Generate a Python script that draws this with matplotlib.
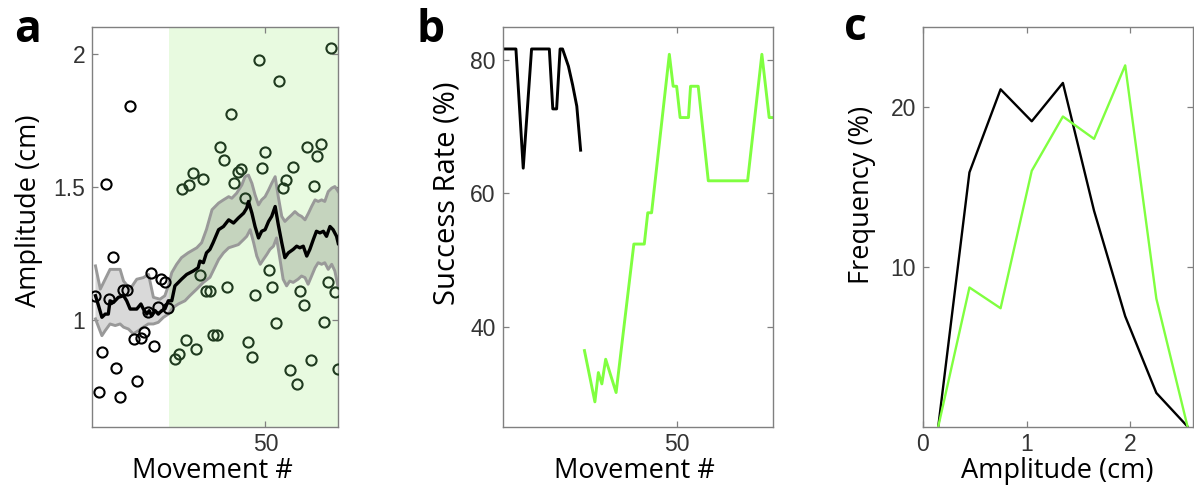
import numpy as np
import matplotlib
matplotlib.use("Agg")
import matplotlib.pyplot as plt

plt.rcParams['font.family'] = ['Liberation Sans', 'DejaVu Sans']

# panel a: amplitude of each movement (nan = hidden under the mean line)
move = np.arange(1, 72)
amp = [1.091, 0.728, 0.880, 1.510, 1.078, 1.237, 0.819, 0.709, 1.111, 1.111,
       1.802, 0.927, 0.772, 0.933, 0.955, 1.029, 1.178, 0.902, 1.047, 1.155,
       1.144, 1.045, np.nan, 0.855, 0.873, 1.491, 0.925, 1.507, 1.553, 0.892,
       1.169, 1.528, 1.107, 1.107, 0.944, 0.944, 1.650, 1.600, 1.124, 1.772,
       1.513, 1.556, 1.565, 1.457, 0.917, 0.861, 1.093, 1.975, 1.569, 1.631,
       1.187, 1.124, 0.988, 1.898, 1.495, 1.526, 0.814, 1.575, 0.761, 1.107,
       1.056, 1.650, 0.848, 1.503, 1.615, 1.660, 0.994, 1.143, 2.020, 1.106,
       0.817]
shade_start = 22.2

mean_x = [1, 1.9, 2.85, 3.8, 4.7, 5.2, 6.2, 7.6, 9.1, 10.0, 11.0, 12.9, 14.1, 14.8,
          15.8, 16.5, 17.2, 18.2, 19.1, 20.1, 21.0, 22.0, 23.0, 23.9, 24.9, 25.8,
          27.3, 29.2, 30.6, 31.1, 32.1, 33.0, 34.0, 34.9, 36.5, 37.9, 39.4, 40.8,
          42.2, 43.7, 44.6, 45.1, 46.1, 47.0, 48.0, 48.9, 49.9, 50.9, 51.8, 52.8,
          53.7, 54.7, 55.6, 56.6, 58.0, 59.0, 59.9, 60.9, 61.9, 62.8, 63.8, 64.7,
          65.7, 66.7, 67.6, 68.6, 69.5, 70.5, 71]
mean_y = [1.091, 1.053, 1.010, 1.022, 1.022, 1.072, 1.066, 1.085, 1.091, 1.072,
          1.041, 1.041, 1.060, 1.041, 1.022, 1.035, 1.016, 1.035, 1.022, 1.035,
          1.041, 1.072, 1.072, 1.128, 1.141, 1.153, 1.171, 1.184, 1.196, 1.221,
          1.215, 1.252, 1.265, 1.290, 1.339, 1.351, 1.376, 1.364, 1.383, 1.401,
          1.420, 1.445, 1.401, 1.351, 1.308, 1.333, 1.339, 1.370, 1.389, 1.426,
          1.358, 1.290, 1.234, 1.252, 1.265, 1.277, 1.271, 1.277, 1.240, 1.265,
          1.302, 1.333, 1.327, 1.333, 1.314, 1.351, 1.339, 1.314, 1.287]

upper_x = [1, 2.4, 5.2, 8.1, 9.1, 11.0, 12.9, 14.8, 16.3, 17.7, 19.6, 21.0, 22.0,
           23.0, 24.4, 25.8, 27.7, 30.2, 31.6, 33.0, 34.6, 36.5, 37.9, 39.4, 40.3,
           41.7, 43.2, 44.1, 45.1, 46.1, 47.0, 48.0, 48.9, 49.9, 50.9, 51.8, 52.8,
           53.7, 54.7, 55.6, 56.6, 57.6, 58.5, 59.5, 60.4, 61.4, 62.4, 63.3, 64.3,
           65.2, 66.2, 67.1, 68.1, 69.1, 70.0, 71]
upper_y = [1.203, 1.116, 1.190, 1.190, 1.146, 1.116, 1.153, 1.159, 1.171, 1.085,
           1.078, 1.091, 1.128, 1.178, 1.209, 1.234, 1.252, 1.271, 1.290, 1.340,
           1.414, 1.439, 1.451, 1.463, 1.457, 1.476, 1.507, 1.538, 1.544, 1.513,
           1.470, 1.432, 1.451, 1.463, 1.488, 1.513, 1.538, 1.463, 1.389, 1.370,
           1.383, 1.395, 1.407, 1.395, 1.389, 1.376, 1.401, 1.426, 1.451, 1.445,
           1.451, 1.445, 1.482, 1.495, 1.501, 1.482]

lower_x = [1, 2.85, 3.8, 5.2, 6.7, 8.1, 9.1, 10.5, 11.9, 13.4, 14.8, 16.2, 17.7,
           19.1, 20.6, 22.0, 23.4, 24.9, 26.8, 28.2, 30.2, 32.1, 34.0, 36.5, 37.9,
           39.4, 40.8, 42.2, 43.7, 44.6, 45.6, 46.6, 47.5, 48.5, 49.4, 50.4, 51.3,
           52.3, 53.2, 54.2, 55.1, 56.1, 57.0, 58.0, 59.4, 60.4, 61.4, 62.3, 63.3,
           64.3, 65.2, 66.2, 67.1, 68.1, 69.1, 70.0, 71]
lower_y = [1.004, 0.941, 0.960, 0.985, 0.979, 0.985, 0.973, 0.966, 0.948, 0.960,
           0.973, 0.985, 0.985, 0.991, 1.010, 1.022, 1.047, 1.060, 1.072, 1.091,
           1.116, 1.141, 1.160, 1.227, 1.252, 1.271, 1.277, 1.283, 1.302, 1.314,
           1.339, 1.290, 1.240, 1.209, 1.227, 1.246, 1.265, 1.277, 1.308, 1.227,
           1.153, 1.128, 1.146, 1.141, 1.153, 1.165, 1.159, 1.134, 1.165, 1.196,
           1.215, 1.209, 1.215, 1.190, 1.209, 1.184, 1.120]

# panel b: success rate
succ_black_x = [0, 3.8, 5.9, 8.3, 13.4, 14.4, 15.5, 16.5, 17.2, 18.9, 20.1, 21.3, 22.4]
succ_black_y = [81.7, 81.7, 63.8, 81.7, 81.7, 72.7, 72.7, 81.7, 81.7, 79.1, 76.3, 73.1, 66.5]
succ_green_x = [23.5, 26.5, 27.5, 28.5, 29.6, 32.6, 37.7, 40.7, 41.7, 42.8, 47.9, 49.0,
                50.0, 51.0, 53.4, 54.0, 56.2, 59.1, 70.4, 74.5, 76.6, 77.7]
succ_green_y = [36.4, 28.7, 33.1, 31.4, 35.1, 30.1, 52.4, 52.4, 57.1, 57.1, 80.9, 76.1,
                76.1, 71.4, 71.4, 76.1, 76.1, 61.9, 61.9, 80.9, 71.4, 71.4]

# panel c: amplitude distributions
bins = [0.15, 0.45, 0.75, 1.05, 1.35, 1.65, 1.95, 2.25, 2.55]
freq_black = [0, 15.9, 21.1, 19.1, 21.5, 13.5, 6.9, 2.1, 0]
freq_green = [0, 8.7, 7.4, 16.0, 19.4, 18.0, 22.6, 8.0, 0]

green = (0.5, 1.0, 0.25)
bg_green = '#e8fae0'
dark_green = '#1f3a1f'
label_font = dict(family='Open Sans', size=19.5, color='black')

fig = plt.figure(figsize=(11.94, 4.87), dpi=100)
W, H = 1194, 487
bot, top = 426.5, 27


def make_ax(left, right):
    ax = fig.add_axes([left / W, (H - bot) / H, (right - left) / W, (bot - top) / H])
    for s in ax.spines.values():
        s.set_color('#808080')
        s.set_linewidth(1.0)
    ax.tick_params(direction='in', top=True, right=True, length=4.5, width=0.9,
                   colors='#808080', labelcolor='#333333', labelsize=16.5, pad=5)
    return ax


# a
ax = make_ax(92, 338.3)
ax.axvspan(shade_start, 71, color=bg_green, lw=0, zorder=0)
ax.fill(np.concatenate([upper_x, lower_x[::-1]]), np.concatenate([upper_y, lower_y[::-1]]),
        color='k', alpha=0.15, lw=0, zorder=1)
ax.plot(upper_x, upper_y, color='#999999', lw=2.1, zorder=2)
ax.plot(lower_x, lower_y, color='#999999', lw=2.1, zorder=2)
amp = np.array(amp)
pre = move < shade_start
ax.plot(move[pre], amp[pre], 'o', mfc='none', mec='black', ms=7.3, mew=1.5, zorder=3)
ax.plot(move[~pre], amp[~pre], 'o', mfc='none', mec=dark_green, ms=7.3, mew=1.5, zorder=3)
ax.plot(mean_x, mean_y, color='black', lw=2.4, zorder=4)
ax.set_xlim(0, 71)
ax.set_ylim(0.6, 2.1)
ax.set_xticks([50])
ax.set_yticks([1, 1.5, 2])
ax.set_yticklabels(['1', '1.5', '2'])
ax.set_xlabel('Movement #', **label_font)
ax.set_ylabel('Amplitude (cm)', **label_font)
ax.yaxis.set_label_coords(-0.199, 0.539)
ax.xaxis.set_label_coords(0.487, -0.076)

# b
ax = make_ax(502.7, 773)
ax.plot(succ_black_x, succ_black_y, color='black', lw=2.1)
ax.plot(succ_green_x, succ_green_y, color=green, lw=2.1)
ax.set_xlim(0, 77.7)
ax.set_ylim(25, 85)
ax.set_xticks([50])
ax.set_yticks([40, 60, 80])
ax.set_xlabel('Movement #', **label_font)
ax.set_ylabel('Success Rate (%)', family='Open Sans', size=21, color='black')
ax.yaxis.set_label_coords(-0.154, 0.584)
ax.xaxis.set_label_coords(0.489, -0.076)

# c
ax = make_ax(922.7, 1192.7)
ax.plot(bins, freq_black, color='black', lw=1.7)
ax.plot(bins, freq_green, color=green, lw=1.7)
ax.set_xlim(0, 2.6)
ax.set_ylim(0, 25)
ax.set_xticks([0, 1, 2])
ax.set_yticks([10, 20])
ax.set_xlabel('Amplitude (cm)', **label_font)
ax.set_ylabel('Frequency (%)', **label_font)
ax.yaxis.set_label_coords(-0.173, 0.58)
ax.xaxis.set_label_coords(0.497, -0.076)

for letter, x, y in [('a', 14, 42), ('b', 416, 42), ('c', 844, 40)]:
    fig.text(x / W, 1 - y / H, letter, family='Open Sans', weight='bold', size=32,
             ha='left', va='baseline')

fig.savefig('out.png', dpi=100)
